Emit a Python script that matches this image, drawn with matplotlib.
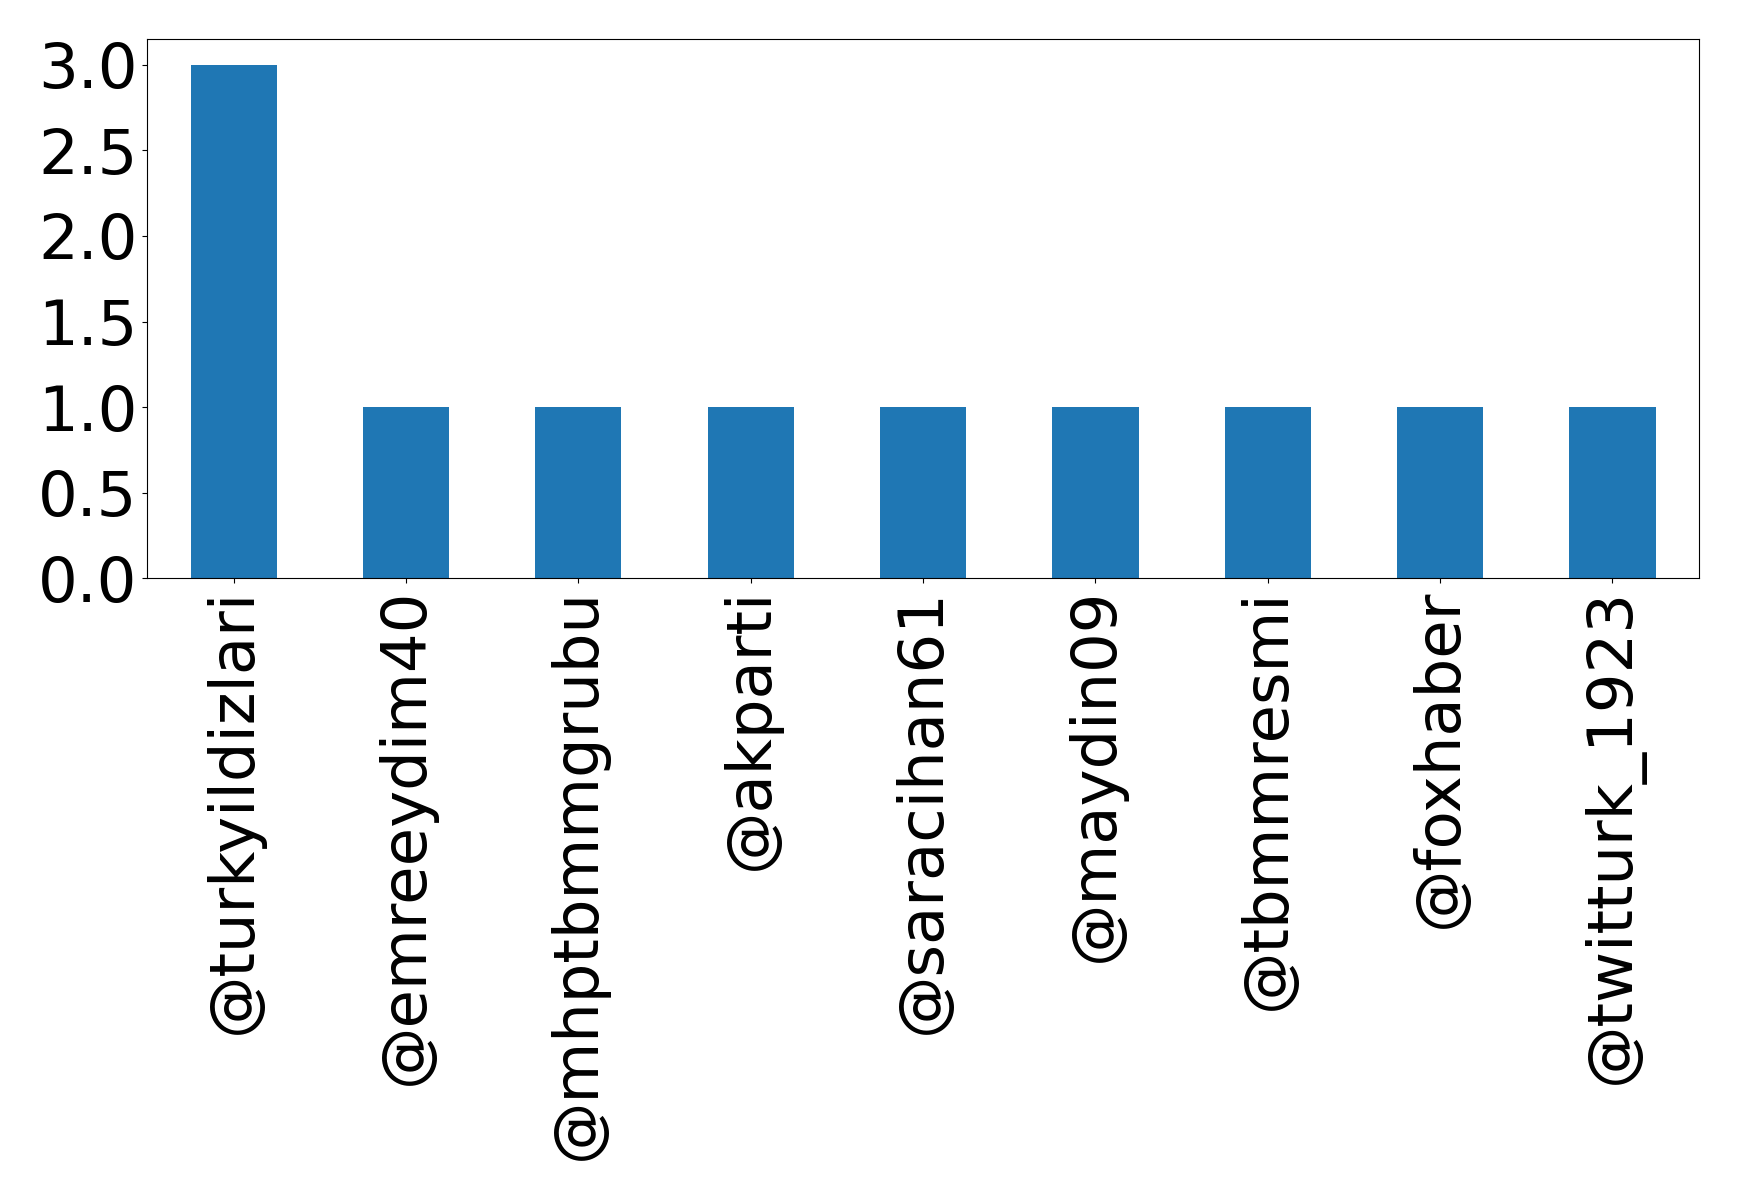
import matplotlib
matplotlib.use('Agg')
import matplotlib.pyplot as plt
from matplotlib.ticker import MultipleLocator, FormatStrFormatter
import numpy as np

# kullanici adlari ve sayilari
users = ['@turkyildizlari', '@emreeydim40', '@mhptbmmgrubu', '@akparti',
         '@saracihan61', '@maydin09', '@tbmmresmi', '@foxhaber', '@twitturk_1923']
counts = [3, 1, 1, 1, 1, 1, 1, 1, 1]

fig = plt.figure(figsize=(17.39, 12), dpi=100)
ax = fig.add_axes([0.0848, 0.518, 0.892, 0.4495])

index = np.arange(len(users))
ax.bar(index, counts, width=0.5, color='#1f77b4')
ax.set_xlim(-0.5, len(users) - 0.5)
ax.set_xticks(index)
ax.set_xticklabels(users, rotation=90, fontsize=45)
ax.yaxis.set_major_locator(MultipleLocator(0.5))
ax.yaxis.set_major_formatter(FormatStrFormatter('%.1f'))
ax.tick_params(axis='y', labelsize=45)

plt.savefig('out.png', dpi=100)
